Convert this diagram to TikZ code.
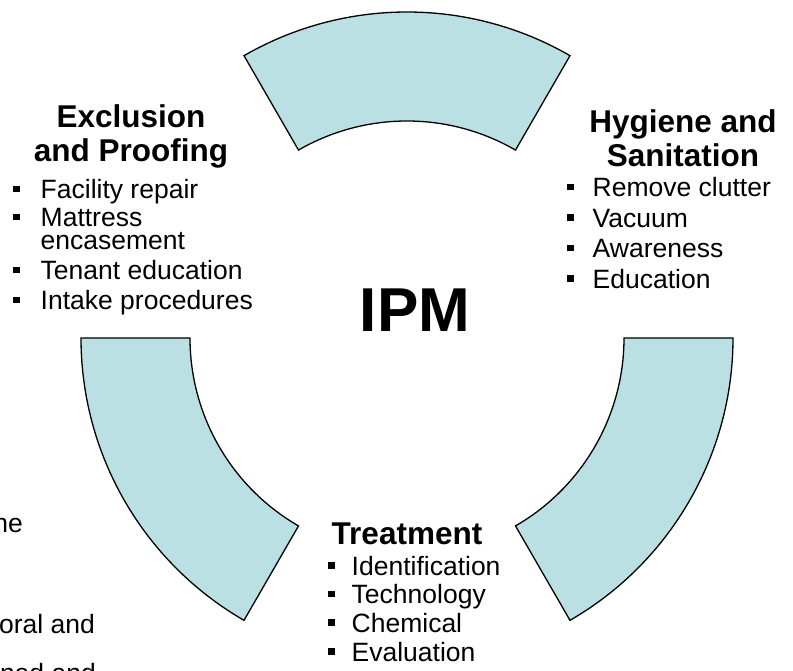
\documentclass[tikz,border=0pt]{standalone}
\usepackage{fontspec}
\setmainfont{Liberation Sans}
\definecolor{segfill}{RGB}{187,224,227}
\newcommand{\hdfont}{\fontsize{31.5}{34}\selectfont\bfseries}
\newcommand{\bltfont}{\fontsize{26.5}{30}\selectfont}
\newcommand{\sqbul}{\rule[6.5pt]{6.5pt}{6.5pt}}
\begin{document}
\begin{tikzpicture}[x=1pt,y=1pt]
        \useasboundingbox (0,0) rectangle (793,670);
        \coordinate (C) at (407,332);
        \begin{scope}[every path/.style={draw=black,line width=1.3pt,fill=segfill}]
          \path ([shift={(60:326)}]C) arc[start angle=60,end angle=120,radius=326]
            -- ([shift={(120:217)}]C) arc[start angle=120,end angle=60,radius=217] -- cycle;
          \path ([shift={(180:326)}]C) arc[start angle=180,end angle=240,radius=326]
            -- ([shift={(240:217)}]C) arc[start angle=240,end angle=180,radius=217] -- cycle;
          \path ([shift={(300:326)}]C) arc[start angle=300,end angle=360,radius=326]
            -- ([shift={(360:217)}]C) arc[start angle=360,end angle=300,radius=217] -- cycle;
        \end{scope}
        \begin{scope}[every node/.style={inner sep=0pt,anchor=base}]
          \node[font=\fontsize{62}{62}\selectfont\bfseries] (ipm) at (415,338) {IPM};
          \node[font=\hdfont] (excl) at (131,542) {\begin{tabular}[t]{@{}c@{}}Exclusion\\and Proofing\end{tabular}};
          \node[font=\hdfont] (hyg) at (683,537) {\begin{tabular}[t]{@{}c@{}}Hygiene and\\Sanitation\end{tabular}};
          \node[font=\hdfont] (treat) at (407,125) {Treatment};
          \node[font=\bltfont,anchor=base west] (exclist) at (13,471) {\begin{tabular}[t]{@{}l@{\hspace{21pt}}l@{}}
            \sqbul & Facility repair\\[-2pt]
            \sqbul & Mattress\\[-7pt]
                   & encasement\\
            \sqbul & Tenant education\\
            \sqbul & Intake procedures
          \end{tabular}};
          \node[font=\bltfont,anchor=base west] (hyglist) at (567,473) {\begin{tabular}[t]{@{}l@{\hspace{19pt}}l@{}}
            \sqbul & Remove clutter\\[0.5pt]
            \sqbul & Vacuum\\[0.5pt]
            \sqbul & Awareness\\[0.5pt]
            \sqbul & Education
          \end{tabular}};
          \node[font=\bltfont,anchor=base west] (treatlist) at (328,95) {\begin{tabular}[t]{@{}l@{\hspace{17pt}}l@{}}
            \sqbul & Identification\\[-1.3pt]
            \sqbul & Technology\\[-1.3pt]
            \sqbul & Chemical\\[-1.3pt]
            \sqbul & Evaluation
          \end{tabular}};
          \node[font=\bltfont,anchor=base east] (frag1) at (23,137) {he};
          \node[font=\bltfont,anchor=base east] (frag2) at (95,37) {oral and};
          \node[font=\bltfont,anchor=base east] (frag3) at (96,-12) {ned and};
        \end{scope}
      \end{tikzpicture}
\end{document}
